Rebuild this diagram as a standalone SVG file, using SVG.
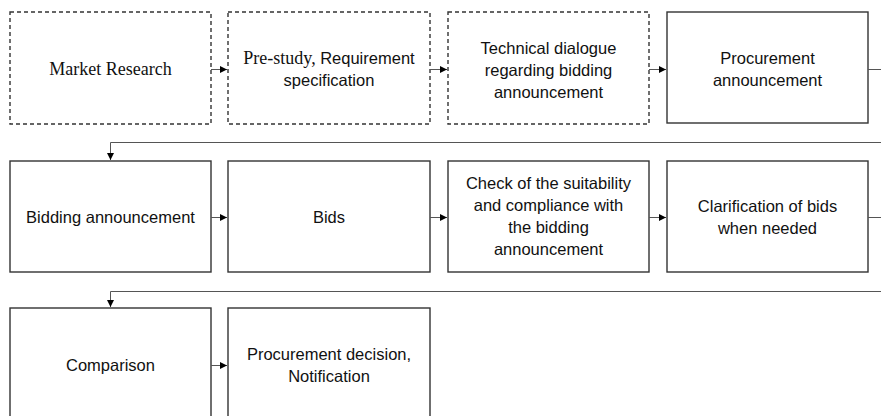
<svg xmlns="http://www.w3.org/2000/svg" width="881" height="416" viewBox="0 0 881 416">
<defs>
<marker id="ah" markerWidth="8" markerHeight="8" refX="7" refY="4" orient="auto" markerUnits="userSpaceOnUse">
<path d="M0,0.5 L7,4 L0,7.5 Z" fill="#000"/>
</marker>
<style>
.box{fill:#fff;stroke:#333;stroke-width:1.4}
.dash{stroke-dasharray:4,3}
.t{font-family:"Liberation Sans",Arial,sans-serif;font-size:16.5px;fill:#111;text-anchor:middle}
.s{font-family:"Liberation Serif","Times New Roman",serif;font-size:18px}
.c{fill:none;stroke:#555;stroke-width:1}
</style>
</defs>
<rect width="881" height="416" fill="#fff"/>
<g id="n1"><rect class="box dash" x="10" y="12" width="201" height="112"/><text class="t s" x="110.5" y="75">Market Research</text></g>
<g id="n2"><rect class="box dash" x="228" y="12" width="202" height="112"/><text class="t" x="329" y="64"><tspan class="s">Pre-study, </tspan>Requirement</text><text class="t" x="329" y="86">specification</text></g>
<g id="n3"><rect class="box dash" x="448" y="12" width="201" height="112"/><text class="t" x="548.5" y="54">Technical dialogue</text><text class="t" x="548.5" y="76">regarding bidding</text><text class="t" x="548.5" y="98">announcement</text></g>
<g id="n4"><rect class="box" x="667" y="12" width="201" height="111"/><text class="t" x="767.5" y="64">Procurement</text><text class="t" x="767.5" y="86">announcement</text></g>
<g id="n5"><rect class="box" x="10" y="161" width="201" height="111"/><text class="t" x="110.5" y="223">Bidding announcement</text></g>
<g id="n6"><rect class="box" x="228" y="161" width="202" height="111"/><text class="t" x="329" y="223">Bids</text></g>
<g id="n7"><rect class="box" x="448" y="161" width="201" height="111"/><text class="t" x="548.5" y="189">Check of the suitability</text><text class="t" x="548.5" y="211">and compliance with</text><text class="t" x="548.5" y="233">the bidding</text><text class="t" x="548.5" y="255">announcement</text></g>
<g id="n8"><rect class="box" x="667" y="161" width="201" height="111"/><text class="t" x="767.5" y="212">Clarification of bids</text><text class="t" x="767.5" y="234">when needed</text></g>
<g id="n9"><rect class="box" x="10" y="308" width="201" height="120"/><text class="t" x="110.5" y="371">Comparison</text></g>
<g id="n10"><rect class="box" x="228" y="308" width="202" height="120"/><text class="t" x="329" y="360">Procurement decision,</text><text class="t" x="329" y="382">Notification</text></g>
<g id="connectors">
<line class="c" x1="211" y1="69.5" x2="227" y2="69.5" marker-end="url(#ah)"/>
<line class="c" x1="430" y1="69.5" x2="447" y2="69.5" marker-end="url(#ah)"/>
<line class="c" x1="649" y1="69.5" x2="666" y2="69.5" marker-end="url(#ah)"/>
<line class="c" x1="868" y1="69.5" x2="881" y2="69.5"/>
<polyline class="c" points="881,142.5 110.5,142.5 110.5,160" marker-end="url(#ah)"/>
<line class="c" x1="211" y1="217.5" x2="227" y2="217.5" marker-end="url(#ah)"/>
<line class="c" x1="430" y1="217.5" x2="447" y2="217.5" marker-end="url(#ah)"/>
<line class="c" x1="649" y1="217.5" x2="666" y2="217.5" marker-end="url(#ah)"/>
<line class="c" x1="868" y1="217.5" x2="881" y2="217.5"/>
<polyline class="c" points="881,291.5 110.5,291.5 110.5,307" marker-end="url(#ah)"/>
<line class="c" x1="211" y1="365.5" x2="227" y2="365.5" marker-end="url(#ah)"/>
</g>
</svg>
